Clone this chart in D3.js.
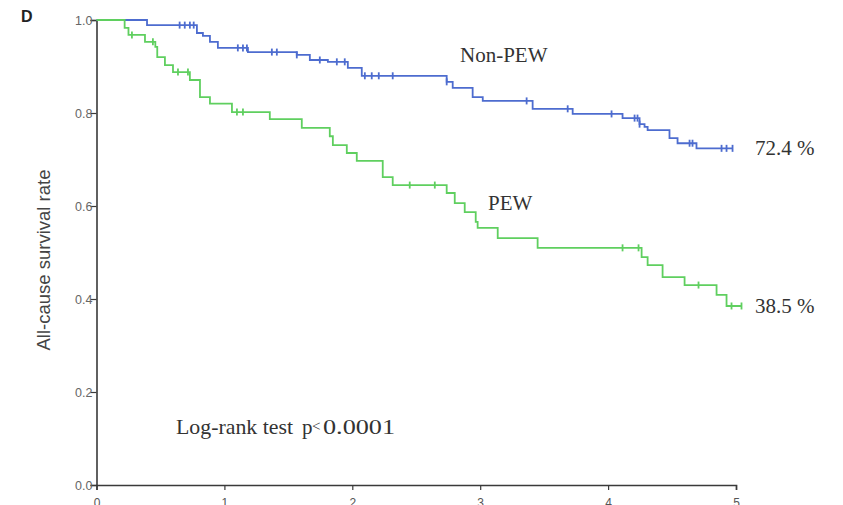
<!DOCTYPE html>
<html>
<head>
<meta charset="utf-8">
<script src="https://cdn.jsdelivr.net/npm/d3@7/dist/d3.min.js"></script>
<style>
  html, body { margin: 0; padding: 0; background: #fff; }
  svg { display: block; }
</style>
</head>
<body>
<svg id="chart" width="843" height="505"></svg>
<script>
// Kaplan–Meier all-cause survival, Non-PEW vs PEW (years of follow-up)
const xTicks = [0, 1, 2, 3, 4, 5];
const yTicks = [0, 0.2, 0.4, 0.6, 0.8, 1.0];

// Non-PEW: event times and survival after each step
const nonPewTimes = [0, 0.395, 0.785, 0.832, 0.887, 0.949, 1.184, 1.566, 1.668, 1.809, 1.965, 2.074,
  2.738, 2.785, 2.941, 3.02, 3.41, 3.723, 4.113, 4.246, 4.285, 4.309, 4.48, 4.543, 4.691];
const nonPewSurv = [1.0, 0.989, 0.972, 0.966, 0.953, 0.940, 0.931, 0.925, 0.914, 0.910, 0.897, 0.880,
  0.867, 0.854, 0.834, 0.826, 0.809, 0.798, 0.789, 0.776, 0.770, 0.763, 0.746, 0.735, 0.724];
const nonPewCensored = [0.65, 0.69, 0.73, 0.76, 1.105, 1.145, 1.176, 1.371, 1.41, 1.566, 1.746, 1.879,
  1.941, 2.098, 2.152, 2.207, 2.316, 2.738, 3.363, 3.684, 4.027, 4.207, 4.23, 4.246, 4.637, 4.66,
  4.887, 4.926, 4.973];
const nonPewEnd = 4.973;

// PEW: event times and survival after each step
const pewTimes = [0, 0.22, 0.25, 0.379, 0.46, 0.475, 0.535, 0.598, 0.73, 0.809, 0.887, 1.059, 1.355,
  1.605, 1.824, 1.848, 1.957, 2.035, 2.238, 2.316, 2.738, 2.801, 2.879, 2.965, 2.98, 3.137, 3.449,
  4.262, 4.309, 4.426, 4.598, 4.848, 4.926];
const pewSurv = [1.0, 0.983, 0.968, 0.953, 0.942, 0.920, 0.903, 0.888, 0.871, 0.834, 0.820, 0.802, 0.787,
  0.768, 0.750, 0.731, 0.714, 0.697, 0.662, 0.645, 0.628, 0.606, 0.587, 0.566, 0.553, 0.531, 0.510,
  0.490, 0.473, 0.447, 0.430, 0.409, 0.385];
const pewCensored = [0.277, 0.441, 0.637, 0.715, 1.098, 1.145, 2.449, 2.645, 4.113, 4.238, 4.707,
  4.965, 5.043];
const pewEnd = 5.043;

const groups = [
  { name: "Non-PEW", times: nonPewTimes, surv: nonPewSurv, cens: nonPewCensored, end: nonPewEnd, color: "#4d6ccf" },
  { name: "PEW", times: pewTimes, surv: pewSurv, cens: pewCensored, end: pewEnd, color: "#5fcf5f" }
];

const svg = d3.select("#chart");
const x = d3.scaleLinear().domain([0, 5]).range([96.5, 736]);
const y = d3.scaleLinear().domain([0, 1]).range([485, 20]);

const axisColor = "#3a3a3a";
const sans = "Liberation Sans, Arial, sans-serif";
const serif = "Liberation Serif, Times New Roman, serif";

// y axis
const yAxis = svg.append("g").attr("transform", `translate(${x(0)},0)`)
  .call(d3.axisLeft(y).tickValues(yTicks).tickSize(6).tickPadding(3).tickFormat(d3.format(".1f")));
yAxis.select(".domain").attr("stroke", axisColor).attr("stroke-width", 1.6);
yAxis.selectAll(".tick line").attr("stroke", axisColor).attr("stroke-width", 1.2);
yAxis.selectAll(".tick text").attr("font-family", sans)
  .attr("font-size", 12.5).attr("fill", "#666").attr("x", -4);

// x axis
const xAxis = svg.append("g").attr("transform", `translate(0,${y(0)})`)
  .call(d3.axisBottom(x).tickValues(xTicks).tickSize(5).tickSizeOuter(5).tickPadding(8).tickFormat(d3.format("d")));
xAxis.select(".domain").attr("stroke", axisColor).attr("stroke-width", 1.6);
xAxis.selectAll(".tick line").attr("stroke", axisColor).attr("stroke-width", 1.2);
xAxis.selectAll(".tick text").attr("font-family", sans)
  .attr("font-size", 12).attr("fill", "#555");

// survival at time t from a step function
function survAt(g, t) {
  let s = g.surv[0];
  for (let i = 0; i < g.times.length; i++) if (g.times[i] <= t) s = g.surv[i];
  return s;
}

const line = d3.line().x(d => x(d[0])).y(d => y(d[1])).curve(d3.curveStepAfter);

groups.forEach(g => {
  const pts = g.times.map((t, i) => [t, g.surv[i]]);
  pts.push([g.end, g.surv[g.surv.length - 1]]);
  const gg = svg.append("g");
  gg.append("path").datum(pts).attr("d", line)
    .attr("fill", "none").attr("stroke", g.color).attr("stroke-width", 1.8);
  gg.selectAll("line.cens").data(g.cens).enter().append("line")
    .attr("x1", d => x(d)).attr("x2", d => x(d))
    .attr("y1", d => y(survAt(g, d)) - 3.5).attr("y2", d => y(survAt(g, d)) + 3.5)
    .attr("stroke", g.color).attr("stroke-width", 1.8);
});

// labels
function label(txt, px, py, size) {
  return svg.append("text").attr("x", px).attr("y", py).attr("font-family", serif)
    .attr("font-size", size).attr("fill", "#333").text(txt);
}
label("Non-PEW", 460, 62, 21);
label("PEW", 488, 210, 21);
label("72.4 %", 755, 155, 21);
label("38.5 %", 755, 313, 21);

// log-rank annotation
const lr = svg.append("text").attr("y", 434).attr("font-family", serif)
  .attr("font-size", 21).attr("fill", "#333");
lr.append("tspan").attr("x", 176).attr("textLength", 117).attr("lengthAdjust", "spacingAndGlyphs").text("Log-rank test");
lr.append("tspan").attr("x", 302).text("p");
lr.append("tspan").attr("x", 312).attr("font-size", 15).attr("dy", -3).text("<");
lr.append("tspan").attr("x", 323).attr("dy", 3).attr("textLength", 72).attr("lengthAdjust", "spacingAndGlyphs").text("0.0001");

// y axis title
svg.append("text")
  .attr("transform", "translate(50,260) rotate(-90)")
  .attr("text-anchor", "middle")
  .attr("font-family", sans)
  .attr("font-size", 18.5).attr("fill", "#444")
  .text("All-cause survival rate");

// panel letter
svg.append("text").attr("x", 21).attr("y", 22)
  .attr("font-family", sans).attr("font-weight", "bold")
  .attr("font-size", 16).attr("fill", "#222").text("D");
</script>
</body>
</html>
